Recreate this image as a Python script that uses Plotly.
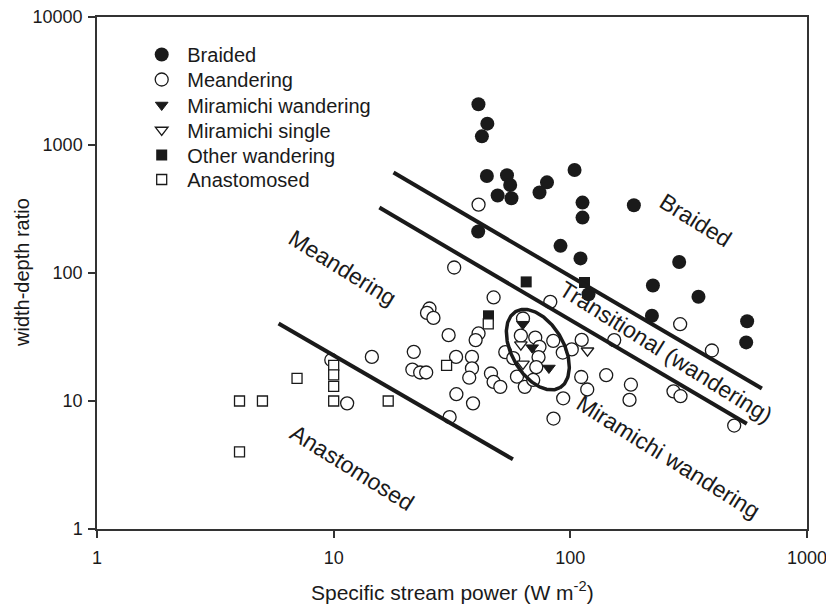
import numpy as np
import plotly.graph_objects as go

# ---------------- data ----------------
braided_x = [40.9, 44.6, 42.3, 44.4, 54.0, 55.7, 49.3, 56.4, 79.7, 74.1, 104.2, 112.6,
             112.6, 40.8, 90.9, 110.4, 185.6, 288.4, 223.4, 348.0, 119.4, 221.2, 558.8, 553.6]
braided_y = [2080, 1469, 1169, 573, 580, 487, 403, 384, 511, 425, 638, 355,
             271, 211, 163, 130, 338, 122, 79.9, 65.3, 68.3, 46.3, 42.0, 28.7]

meander_x = [40.95, 32.3, 47.4, 82.3, 25.4, 24.8, 26.4, 30.6, 40.95, 39.8, 21.8, 14.5,
             9.77, 32.9, 38.4, 38.4, 21.5, 23.2, 24.6, 37.4, 46.2, 47.4, 50.6, 33.0,
             38.8, 11.4, 30.9, 53.1, 57.4, 59.5, 63.1, 61.8, 71.1, 74.1, 73.4, 84.7,
             92.9, 101.4, 111.7, 153.3, 291.2, 396.5, 64.2, 69.7, 71.8, 111.2, 141.8,
             117.9, 180.3, 177.9, 272.9, 292.2, 93.3, 84.9, 492.6]
meander_y = [342.5, 110.4, 64.4, 59.5, 52.8, 48.8, 44.6, 32.7, 33.7, 29.9, 24.2, 22.1,
             20.9, 22.1, 22.1, 17.97, 17.6, 16.7, 16.7, 15.2, 16.4, 14.1, 12.9, 11.3,
             9.58, 9.58, 7.49, 24.1, 21.6, 15.5, 44.1, 32.4, 31.3, 26.5, 22.0, 29.5,
             23.9, 25.3, 30.0, 29.9, 39.8, 24.8, 12.9, 14.6, 18.4, 15.4, 15.9,
             12.3, 13.4, 10.2, 11.9, 10.9, 10.5, 7.29, 6.43]

mir_wand_x = [63.0, 69.0, 81.2]
mir_wand_y = [39.8, 26.1, 18.1]

mir_single_x = [61.8, 63.1, 118.2]
mir_single_y = [27.6, 19.5, 24.7]

other_wand_x = [65.1, 114.8, 45.1]
other_wand_y = [85.2, 84.3, 46.3]

anast_x = [4, 5, 4, 7, 10, 10, 10, 10, 17, 30, 45]
anast_y = [10, 10, 4, 15, 19, 16, 13, 10, 10, 19, 40]

# boundary lines (end points)
braided_line_x = [17.9, 645]
braided_line_y = [609, 12.5]
trans_line_x = [15.6, 557]
trans_line_y = [324.6, 6.64]
anast_line_x = [5.85, 57.2]
anast_line_y = [40.3, 3.50]

# ellipse around Miramichi points: centre (data), semi-axes (px), tilt (deg)
ell_center = (72.9, 25.2)
ell_a_px, ell_b_px, ell_tilt = 44, 26, 60

# region labels: (text, x, y)
region_labels = [
    ("Braided", 10 ** 2.5277, 10 ** 2.412),
    ("Meandering", 10 ** 1.0385, 10 ** 2.0414),
    ("Transitional (wandering)", 10 ** 2.403, 10 ** 1.3817),
    ("Miramichi wandering", 10 ** 2.4149, 10 ** 0.5644),
    ("Anastomosed", 10 ** 1.0807, 10 ** 0.4801),
]

x_ticks = [1, 10, 100, 1000]
y_ticks = [1, 10, 100, 1000, 10000]
x_title = "Specific stream power (W m<sup>-2</sup>)"
y_title = "width-depth ratio"

# ---------------- layout constants ----------------
W, H = 826, 605
ML, MR, MT, MB = 97, 19, 17, 76
PW, PH = W - ML - MR, H - MT - MB
PX_DEC_X = PW / 3.0   # px per decade
PX_DEC_Y = PH / 4.0

BLACK = "#1a1a1a"
FONT = "Liberation Sans, Arial, sans-serif"

fig = go.Figure()

legend_names = ["Braided", "Meandering", "Miramichi wandering", "Miramichi single",
                "Other wandering", "Anastomosed"]
legend_ids = ["legend", "legend2", "legend3", "legend4", "legend5", "legend6"]

series = [
    (braided_x, braided_y, dict(symbol="circle", size=14, color=BLACK, line=dict(width=0))),
    (meander_x, meander_y, dict(symbol="circle", size=13, color="white", line=dict(color=BLACK, width=1.3))),
    (mir_wand_x, mir_wand_y, dict(symbol="triangle-down", size=11, color=BLACK, line=dict(color=BLACK, width=1))),
    (mir_single_x, mir_single_y, dict(symbol="triangle-down", size=11, color="white", line=dict(color=BLACK, width=1.3))),
    (other_wand_x, other_wand_y, dict(symbol="square", size=11, color=BLACK, line=dict(width=0))),
    (anast_x, anast_y, dict(symbol="square", size=10, color="white", line=dict(color=BLACK, width=1.3))),
]

for (xs, ys, mk), name, lid in zip(series, legend_names, legend_ids):
    fig.add_trace(go.Scatter(x=xs, y=ys, mode="markers", name="\u00a0" + name,
                             marker=mk, legend=lid, hoverinfo="x+y"))

for lx, ly in [(braided_line_x, braided_line_y), (trans_line_x, trans_line_y),
               (anast_line_x, anast_line_y)]:
    fig.add_trace(go.Scatter(x=lx, y=ly, mode="lines", showlegend=False,
                             line=dict(color=BLACK, width=4), hoverinfo="skip"))

# ellipse
t = np.linspace(0, 2 * np.pi, 200)
th = np.deg2rad(ell_tilt)
dx = ell_a_px * np.cos(t) * np.cos(th) - ell_b_px * np.sin(t) * np.sin(th)
dy = ell_a_px * np.cos(t) * np.sin(th) + ell_b_px * np.sin(t) * np.cos(th)  # screen-down
ex = 10 ** (np.log10(ell_center[0]) + dx / PX_DEC_X)
ey = 10 ** (np.log10(ell_center[1]) - dy / PX_DEC_Y)
fig.add_trace(go.Scatter(x=ex, y=ey, mode="lines", showlegend=False,
                         line=dict(color=BLACK, width=3.5), hoverinfo="skip"))

for txt, x, y in region_labels:
    fig.add_annotation(x=np.log10(x), y=np.log10(y), xref="x", yref="y", text=txt,
                       showarrow=False, textangle=32,
                       font=dict(family=FONT, size=23, color=BLACK))

# axis titles as annotations (exact placement)
fig.add_annotation(text=x_title, xref="paper", yref="paper", x=0.5,
                   y=-(591 - (H - MB)) / PH, xanchor="center", yanchor="middle",
                   showarrow=False, font=dict(family=FONT, size=21, color=BLACK))
fig.add_annotation(text=y_title, xref="paper", yref="paper", x=(22 - ML) / PW,
                   y=0.5, xanchor="center", yanchor="middle", textangle=-90,
                   showarrow=False, font=dict(family=FONT, size=20, color=BLACK))

# legends: one per entry so row spacing matches the reference
row_px = [55, 80, 105.5, 130.5, 155.5, 180]
legend_left_px = 141.7
layout_legends = {}
for lid, rp in zip(legend_ids, row_px):
    layout_legends[lid] = dict(x=(legend_left_px - ML) / PW, y=1 - (rp - 0.5 - MT) / PH,
                               xanchor="left", yanchor="middle",
                               bgcolor="rgba(0,0,0,0)", borderwidth=0,
                               font=dict(family=FONT, size=20, color=BLACK))

axis_common = dict(type="log", showgrid=False, zeroline=False, showline=True,
                   linecolor="#333333", linewidth=1.5, mirror=True, automargin=False,
                   ticks="outside", ticklen=7, tickwidth=1.5, tickcolor="#333333",
                   ticklabeloverflow="allow",
                   tickfont=dict(family=FONT, size=18, color=BLACK))

fig.update_layout(
    width=W, height=H, autosize=False,
    margin=dict(l=ML, r=MR, t=MT, b=MB, pad=0),
    plot_bgcolor="white", paper_bgcolor="white",
    font=dict(family=FONT, color=BLACK),
    xaxis=dict(axis_common, range=[-0.0002, 3.0002], tickvals=x_ticks,
               ticktext=[str(v) for v in x_ticks], ticklabelstandoff=5),
    yaxis=dict(axis_common, range=[-0.0002, 4.0002], tickvals=y_ticks,
               ticktext=[str(v) for v in y_ticks], ticklabelstandoff=2),
    showlegend=True,
    **layout_legends,
)

fig.write_html("out.html")
